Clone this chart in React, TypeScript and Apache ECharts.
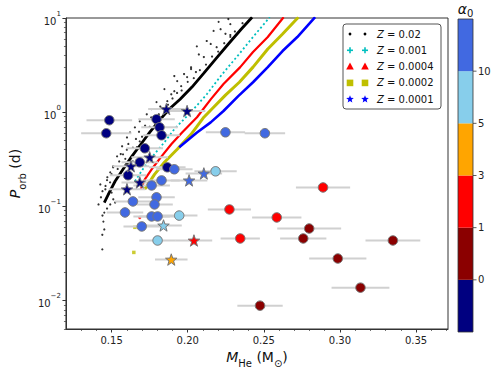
import React, { useEffect, useRef } from "react";
import * as echarts from "echarts";

const FONT = "DejaVu Sans";
const X_MIN = 0.12;
const X_MAX = 0.371;
const Y_MIN = 0.005;
const Y_MAX = 10;

const xMajorTicks = [0.15, 0.2, 0.25, 0.3, 0.35];
const xMinorTicks = [0.13, 0.14, 0.16, 0.17, 0.18, 0.19, 0.21, 0.22, 0.23, 0.24, 0.26, 0.27, 0.28, 0.29, 0.31, 0.32, 0.33, 0.34, 0.36, 0.37];
const yMajorTicks = [0.01, 0.1, 1, 10];
const yMinorTicks = [0.005, 0.006, 0.007, 0.008, 0.009, 0.02, 0.03, 0.04, 0.05, 0.06, 0.07, 0.08, 0.09, 0.2, 0.3, 0.4, 0.5, 0.6, 0.7, 0.8, 0.9, 2, 3, 4, 5, 6, 7, 8, 9];

// Evolutionary tracks [M_He, P_orb]
const trackZ002 = [[0.1452, 0.110], [0.1485, 0.141], [0.1523, 0.185], [0.1575, 0.248], [0.1633, 0.34], [0.1692, 0.457], [0.1750, 0.61], [0.1814, 0.82], [0.1879, 1.08], [0.1950, 1.37], [0.2028, 1.85], [0.2106, 2.6], [0.2183, 3.66], [0.2267, 5.3], [0.2351, 7.6], [0.2423, 10.2]];
const scatterZ002 = [[0.2267, 9.75], [0.2216, 7.6], [0.2170, 7.3], [0.2248, 6.8], [0.2280, 6.3], [0.2151, 5.3], [0.2190, 4.9], [0.2060, 5.0], [0.2073, 4.1], [0.2106, 3.85], [0.2022, 2.87], [0.1976, 2.54], [0.1931, 2.14], [0.1996, 2.36], [0.2054, 2.67], [0.1912, 1.67], [0.1957, 1.89], [0.1892, 1.55], [0.1866, 1.31], [0.2203, 9.1], [0.2280, 8.6], [0.2125, 5.7], [0.2022, 3.0], [0.1912, 2.42], [0.1795, 1.28], [0.1847, 1.76], [0.1601, 0.54], [0.1569, 0.435], [0.1536, 0.34], [0.1511, 0.267], [0.1491, 0.23], [0.1472, 0.204], [0.1621, 0.61], [0.1653, 0.69], [0.1685, 0.80], [0.1731, 0.95], [0.1763, 1.08], [0.1575, 0.357], [0.1666, 0.425], [0.1640, 0.30], [0.1685, 0.49], [0.1426, 0.171], [0.1459, 0.152], [0.1478, 0.134], [0.1511, 0.119], [0.1491, 0.105], [0.1523, 0.110], [0.1446, 0.069], [0.1452, 0.057], [0.1439, 0.050], [0.1439, 0.035], [0.1414, 0.105], [0.1452, 0.086], [0.1840, 1.10], [0.1780, 0.90], [0.1720, 0.72], [0.1660, 0.52], [0.1600, 0.40], [0.1550, 0.30], [0.1500, 0.22], [0.1460, 0.165], [0.1900, 1.40], [0.1960, 1.70], [0.2040, 2.30], [0.2120, 3.20], [0.2200, 4.40], [0.2280, 6.60], [0.2360, 8.80], [0.1870, 1.20], [0.1810, 0.95], [0.1750, 0.70], [0.1700, 0.55], [0.1640, 0.42], [0.1590, 0.32], [0.1540, 0.25], [0.1490, 0.18], [0.1930, 1.60], [0.2000, 2.10], [0.2080, 2.80], [0.2160, 3.90], [0.2240, 5.40], [0.2310, 7.20], [0.1820, 1.15], [0.1760, 0.88], [0.1680, 0.62], [0.1610, 0.46], [0.1560, 0.36], [0.1510, 0.26], [0.1470, 0.19], [0.1440, 0.145], [0.1430, 0.125], [0.1470, 0.095], [0.1440, 0.080], [0.1500, 0.140]];
const trackZ0010 = [[0.1653, 0.185], [0.1705, 0.248], [0.1769, 0.34], [0.1847, 0.48], [0.1912, 0.66], [0.2028, 1.03], [0.2125, 1.55], [0.2222, 2.48], [0.2332, 4.04], [0.2429, 6.28], [0.2539, 10.2]];
const trackZ0004 = [[0.1692, 0.152], [0.1718, 0.194], [0.1763, 0.248], [0.1828, 0.34], [0.1892, 0.457], [0.1963, 0.61], [0.2061, 0.885], [0.2151, 1.37], [0.2235, 1.99], [0.2345, 3.01], [0.2429, 4.35], [0.2526, 6.28], [0.2630, 10.2]];
const strayZ0004 = [[0.1653, 0.113], [0.1685, 0.076]];
const trackZ0002 = [[0.1718, 0.152], [0.1782, 0.219], [0.1847, 0.294], [0.1931, 0.404], [0.2022, 0.583], [0.2106, 0.885], [0.2170, 1.13], [0.2248, 1.52], [0.2339, 2.08], [0.2429, 3.01], [0.2526, 4.68], [0.2623, 6.76], [0.2727, 10.2]];
const strayZ0002 = [[0.1653, 0.060], [0.1646, 0.0325]];
const trackZ0001 = [[0.1944, 0.425], [0.2061, 0.61], [0.2151, 0.78], [0.2235, 1.03], [0.2332, 1.48], [0.2429, 2.08], [0.2526, 3.01], [0.2623, 4.46], [0.2720, 6.28], [0.2837, 10.2]];

// Observed systems [M_He, P_orb, M_He error]
const navyCircles = [[0.1485, 0.822, 0.015], [0.1465, 0.598, 0.0165], [0.1795, 0.843, 0.012], [0.1815, 0.692, 0.012], [0.1828, 0.569, 0.012], [0.1718, 0.414, 0.012], [0.1866, 0.260, 0.012], [0.1608, 0.214, 0.012], [0.1685, 0.294, 0.012]];
const navyStars = [[0.1860, 1.08, 0.012], [0.1996, 1.03, 0.012], [0.1685, 0.18, 0.012], [0.1601, 0.152, 0.012], [0.1750, 0.332, 0.012], [0.1627, 0.267, 0.012]];
const darkredCircles = [[0.2798, 0.0583, 0.021], [0.2759, 0.0457, 0.0152], [0.3348, 0.0435, 0.018], [0.2986, 0.028, 0.0188], [0.3135, 0.01374, 0.019], [0.2475, 0.00885, 0.0149]];
const redCircles = [[0.2889, 0.159, 0.0178], [0.2274, 0.0929, 0.0142], [0.2585, 0.0764, 0.0162], [0.2345, 0.0457, 0.0129]];
const redStars = [[0.2041, 0.0435, 0.012]];
const orangeStars = [[0.1892, 0.0273, 0.0107]];
const skyCircles = [[0.2183, 0.236, 0.0139], [0.1944, 0.080, 0.012], [0.1802, 0.0435, 0.012]];
const skyStars = [[0.1841, 0.0628, 0.012]];
const royalCircles = [[0.1912, 0.248, 0.012], [0.1828, 0.189, 0.012], [0.1763, 0.167, 0.012], [0.1795, 0.125, 0.012], [0.1782, 0.105, 0.012], [0.1640, 0.113, 0.012], [0.1588, 0.0863, 0.012], [0.1763, 0.0783, 0.012], [0.1802, 0.0783, 0.012], [0.1698, 0.0613, 0.012], [0.2248, 0.612, 0.0129], [0.2507, 0.598, 0.0133]];
const royalStars = [[0.2009, 0.189, 0.012], [0.2106, 0.224, 0.012]];

// Colour bar for alpha_0
const cbarColors = ["#000080", "#8B0000", "#FF0000", "#FFA500", "#87CEEB", "#4169E1"];
const cbarLabels = ["0", "1", "3", "5", "10"];

const legendLabels = ["0.02", "0.001", "0.0004", "0.0002", "0.0001"];
const legendColors = ["#000000", "#00BFBF", "#FF0000", "#BFBF00", "#0000FF"];
const legendKinds = ["dot", "plus", "tri", "square", "star"];

const STAR = "path://M0,-10L2.35,-3.24L9.51,-3.09L3.8,1.24L5.88,8.09L0,4L-5.88,8.09L-3.8,1.24L-9.51,-3.09L-2.35,-3.24Z";

function starPoints(cx: number, cy: number, R: number, r: number) {
  const pts: number[][] = [];
  for (let i = 0; i < 10; i++) {
    const a = -Math.PI / 2 + (i * Math.PI) / 5;
    const rad = i % 2 === 0 ? R : r;
    pts.push([cx + rad * Math.cos(a), cy + rad * Math.sin(a)]);
  }
  return pts;
}

function legendMarker(kind: string, cx: number, cy: number, color: string): any[] {
  switch (kind) {
    case "dot":
      return [{ type: "circle", shape: { cx, cy, r: 1.4 }, style: { fill: color } }];
    case "plus":
      return [
        { type: "line", shape: { x1: cx - 3, y1: cy, x2: cx + 3, y2: cy }, style: { stroke: color, lineWidth: 1.6 } },
        { type: "line", shape: { x1: cx, y1: cy - 3, x2: cx, y2: cy + 3 }, style: { stroke: color, lineWidth: 1.6 } },
      ];
    case "tri":
      return [{ type: "polygon", shape: { points: [[cx, cy - 4], [cx + 3.8, cy + 3], [cx - 3.8, cy + 3]] }, style: { fill: color } }];
    case "square":
      return [{ type: "rect", shape: { x: cx - 3.3, y: cy - 3.3, width: 6.6, height: 6.6 }, style: { fill: color } }];
    default:
      return [{ type: "polygon", shape: { points: starPoints(cx, cy, 4, 1.7) }, style: { fill: color } }];
  }
}

function pointSeries(data: number[][], color: string, star: boolean) {
  return {
    type: "scatter",
    data: data.map((d) => [d[0], d[1]]),
    symbol: star ? STAR : "circle",
    symbolSize: star ? 11.5 : 9.5,
    itemStyle: { color, borderColor: "#777777", borderWidth: 1, opacity: 1 },
    z: 5,
  };
}

const allObserved = [
  ...navyCircles, ...navyStars, ...darkredCircles, ...redCircles, ...redStars, ...orangeStars,
  ...skyCircles, ...skyStars, ...royalCircles, ...royalStars,
];

export default function App() {
  const ref = useRef<HTMLDivElement>(null);
  useEffect(() => {
    const chart = echarts.init(ref.current!, null, { renderer: "svg" });

    const graphics: any[] = [];
    // colour bar
    const cbX = 458, cbW = 15, cbTop = 19, cbBot = 332;
    const segH = (cbBot - cbTop) / cbarColors.length;
    cbarColors.forEach((c, i) => {
      graphics.push({ type: "rect", shape: { x: cbX, y: cbBot - (i + 1) * segH, width: cbW, height: segH }, style: { fill: c } });
    });
    graphics.push({ type: "rect", shape: { x: cbX, y: cbTop, width: cbW, height: cbBot - cbTop }, style: { fill: "none", stroke: "#333", lineWidth: 0.8 } });
    cbarLabels.forEach((t, i) => {
      const y = cbBot - (i + 1) * segH;
      graphics.push({ type: "line", shape: { x1: cbX + cbW, y1: y, x2: cbX + cbW + 3.5, y2: y }, style: { stroke: "#333", lineWidth: 0.8 } });
      graphics.push({ type: "text", x: cbX + cbW + 5, y, style: { text: t, font: `10px '${FONT}'`, fill: "#222", verticalAlign: "middle", align: "left" } });
    });
    graphics.push({
      type: "text", x: cbX + cbW / 2, y: 10,
      style: {
        text: "{a|α}{s|0}", align: "center", verticalAlign: "middle",
        rich: { a: { fontSize: 14, fontFamily: FONT, fontStyle: "italic", fill: "#111", verticalAlign: "top", lineHeight: 17 }, s: { fontSize: 10, fontFamily: FONT, fill: "#111", verticalAlign: "bottom", lineHeight: 17 } },
      },
    });
    // legend
    const lgX = 343, lgY = 24, lgW = 98, lgH = 85;
    graphics.push({ type: "rect", shape: { x: lgX, y: lgY, width: lgW, height: lgH, r: 3 }, style: { fill: "rgba(255,255,255,0.85)", stroke: "#555", lineWidth: 1 }, z: 100 });
    legendLabels.forEach((lab, i) => {
      const y = 34 + i * 16.3;
      [350, 365].forEach((mx) => {
        legendMarker(legendKinds[i], mx, y, legendColors[i]).forEach((el) => graphics.push({ ...el, z: 101 }));
      });
      graphics.push({
        type: "text", x: 377, y, z: 101,
        style: {
          text: `{i|Z} = ${lab}`, font: `10px '${FONT}'`, fill: "#111", verticalAlign: "middle", align: "left",
          rich: { i: { fontStyle: "italic", fontSize: 10, fontFamily: FONT, fill: "#111" } },
        },
      });
    });

    const supRich = {
      b: { fontSize: 10, fontFamily: FONT, color: "#222", verticalAlign: "bottom", lineHeight: 16 },
      s: { fontSize: 7, fontFamily: FONT, color: "#222", verticalAlign: "top", lineHeight: 9 },
    };

    const nameRich = {
      i: { fontSize: 14, fontFamily: FONT, fontStyle: "italic", color: "#111", verticalAlign: "top", lineHeight: 19 },
      n: { fontSize: 14, fontFamily: FONT, color: "#111", verticalAlign: "top", lineHeight: 19 },
      s: { fontSize: 10, fontFamily: FONT, color: "#111", verticalAlign: "bottom", lineHeight: 12 },
    };

    const option: any = {
      animation: false,
      backgroundColor: "#ffffff",
      textStyle: { fontFamily: FONT },
      grid: { left: 60, right: 50, top: 18, bottom: 45, show: true, borderColor: "#333", borderWidth: 1, backgroundColor: "transparent" },
      xAxis: [
        {
          type: "value", min: X_MIN, max: X_MAX, position: "bottom",
          axisLine: { show: true, onZero: false, lineStyle: { color: "#333", width: 1 } },
          axisTick: { show: true, customValues: xMajorTicks, length: 3.5, lineStyle: { color: "#333" } },
          axisLabel: { customValues: xMajorTicks, formatter: (v: number) => v.toFixed(2), color: "#222", fontSize: 10, fontFamily: FONT, margin: 6 },
          splitLine: { show: false },
          name: "{i|M}{s|He}{n| (M}{s|⊙}{n|)}",
          nameLocation: "middle", nameGap: 20,
          nameTextStyle: { rich: nameRich },
        },
        {
          type: "value", min: X_MIN, max: X_MAX, position: "bottom",
          axisLine: { show: false, onZero: false },
          axisTick: { show: true, customValues: xMinorTicks, length: 2, lineStyle: { color: "#333", width: 0.7 } },
          axisLabel: { show: false },
          splitLine: { show: false },
        },
      ],
      yAxis: [
        {
          type: "log", logBase: 10, min: Y_MIN, max: Y_MAX, position: "left",
          axisLine: { show: true, onZero: false, lineStyle: { color: "#333", width: 1 } },
          axisTick: { show: true, customValues: yMajorTicks, length: 3.5, lineStyle: { color: "#333" } },
          axisLabel: {
            customValues: yMajorTicks, margin: 5,
            formatter: (v: number) => {
              const e = Math.round(Math.log10(v));
              return `{b|10}{s|${e < 0 ? "−" + -e : e}}`;
            },
            rich: supRich,
          },
          splitLine: { show: false },
          minorTick: { show: false },
          name: "{i|P}{s|orb}{n| (d)}",
          nameLocation: "middle", nameGap: 34,
          nameTextStyle: { rich: nameRich },
        },
        {
          type: "log", logBase: 10, min: Y_MIN, max: Y_MAX, position: "left",
          axisLine: { show: false, onZero: false },
          axisTick: { show: true, customValues: yMinorTicks, length: 2, lineStyle: { color: "#333", width: 0.7 } },
          axisLabel: { show: false },
          splitLine: { show: false },
        },
      ],
      series: [
        { type: "line", data: trackZ002, showSymbol: false, symbol: "none", lineStyle: { color: "#000", width: 2.8 }, z: 2 },
        { type: "scatter", data: scatterZ002, symbolSize: 2.2, itemStyle: { color: "#000" }, z: 2 },
        { type: "line", data: trackZ0010, showSymbol: false, symbol: "none", lineStyle: { color: "#00BFBF", width: 1.8, type: [2, 2.5] }, z: 2 },
        { type: "line", data: trackZ0004, showSymbol: false, symbol: "none", lineStyle: { color: "#FF0000", width: 2.2 }, z: 2 },
        { type: "scatter", data: strayZ0004, symbolSize: 3, itemStyle: { color: "#FF0000" }, z: 2 },
        { type: "line", data: trackZ0002, showSymbol: false, symbol: "none", lineStyle: { color: "#BFBF00", width: 3 }, z: 2 },
        { type: "scatter", data: strayZ0002, symbol: "rect", symbolSize: 3.5, itemStyle: { color: "#BFBF00" }, z: 2 },
        { type: "line", data: trackZ0001, showSymbol: false, symbol: "none", lineStyle: { color: "#0000FF", width: 2.6 }, z: 2 },
        {
          type: "custom", z: 3,
          dimensions: ["m", "p", "e"], encode: { x: 0, y: 1 },
          data: allObserved,
          renderItem: (params: any, api: any) => {
            const m = api.value(0), p = api.value(1), e = api.value(2);
            const a = api.coord([m - e, p]);
            const b = api.coord([m + e, p]);
            return { type: "line", shape: { x1: a[0], y1: a[1], x2: b[0], y2: b[1] }, style: { stroke: "#d0d0d0", lineWidth: 2 } };
          },
        },
        pointSeries(navyCircles, "#000080", false),
        pointSeries(navyStars, "#000080", true),
        pointSeries(darkredCircles, "#8B0000", false),
        pointSeries(redCircles, "#FF0000", false),
        pointSeries(redStars, "#FF0000", true),
        pointSeries(orangeStars, "#FFA500", true),
        pointSeries(skyCircles, "#87CEEB", false),
        pointSeries(skyStars, "#87CEEB", true),
        pointSeries(royalCircles, "#4169E1", false),
        pointSeries(royalStars, "#4169E1", true),
      ],
      graphic: graphics,
    };
    chart.setOption(option);
    return () => chart.dispose();
  }, []);
  return <div ref={ref} style={{ position: "fixed", left: 0, top: 0, width: 498, height: 374, background: "#fff" }} />;
}
